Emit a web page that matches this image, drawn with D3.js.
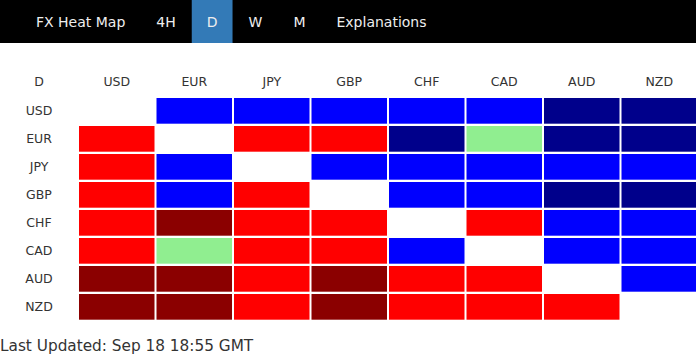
<!DOCTYPE html>
<head>
<style>
body { margin: 0; background: #fff; }
* { font-family: "DejaVu Sans", Verdana, sans-serif; }
</style>
</head>
<body>
<svg id="chart" width="696" height="358"></svg>
<script src="https://d3js.org/d3.v7.min.js"></script>
<script>

// nav
var brand = "FX Heat Map";
var timeframes = ["4H", "D", "W", "M"];
var activeFrame = "D";
var extraLink = "Explanations";

// heat map: 2 strong up, 1 up, 0 flat, -1 down, -2 strong down, null = same pair
var currencies = ["USD", "EUR", "JPY", "GBP", "CHF", "CAD", "AUD", "NZD"];
var rowUSD = [null, 1, 1, 1, 1, 1, 2, 2];
var rowEUR = [-1, null, -1, -1, 2, 0, 2, 2];
var rowJPY = [-1, 1, null, 1, 1, 1, 1, 1];
var rowGBP = [-1, 1, -1, null, 1, 1, 2, 2];
var rowCHF = [-1, -2, -1, -1, null, -1, 1, 1];
var rowCAD = [-1, 0, -1, -1, 1, null, 1, 1];
var rowAUD = [-2, -2, -1, -2, -1, -1, null, 1];
var rowNZD = [-2, -2, -1, -2, -1, -1, -1, null];
var lastUpdated = "Last Updated: Sep 18 18:55 GMT";

var rows = [rowUSD, rowEUR, rowJPY, rowGBP, rowCHF, rowCAD, rowAUD, rowNZD];
var cells = [];
rows.forEach(function(r, i) {
  r.forEach(function(v, j) {
    cells.push({row: currencies[i], col: currencies[j], value: v});
  });
});

var color = d3.scaleOrdinal()
    .domain([-2, -1, 0, 1, 2])
    .range(["#8b0000", "#ff0000", "#90ee90", "#0000ff", "#00008b"]);

var svg = d3.select("#chart");

// ---- nav bar
svg.append("rect").attr("width", 696).attr("height", 43).attr("fill", "#000");

var navItems = [{label: brand}].concat(timeframes.map(function(t) { return {label: t}; }), [{label: extraLink}]);
var nav = svg.append("g");
var cursor = 21;
navItems.forEach(function(d) {
  var g = nav.append("g");
  var bg = g.append("rect").attr("y", 0).attr("height", 43).attr("fill", d.label == activeFrame ? "#337ab7" : "none");
  var t = g.append("text")
      .attr("x", cursor + 15)
      .attr("y", 27)
      .attr("fill", "#eee")
      .style("font-size", "14px")
      .text(d.label);
  var w = t.node().getComputedTextLength();
  bg.attr("x", cursor).attr("width", w + 30);
  cursor += w + 31;
});

// ---- heat map
var x = d3.scaleBand().domain(currencies).range([78, 698]);
var y = d3.scaleBand().domain(currencies).range([97, 321]);

svg.append("text")
    .attr("x", 39).attr("y", 82)
    .attr("text-anchor", "middle").attr("dy", "0.35em")
    .attr("fill", "#333").style("font-size", "12.5px")
    .text(activeFrame);

svg.append("g").selectAll("text")
  .data(currencies)
  .enter().append("text")
    .attr("x", function(d) { return x(d) + x.bandwidth() / 2; })
    .attr("y", 82)
    .attr("text-anchor", "middle").attr("dy", "0.35em")
    .attr("fill", "#333").style("font-size", "12.5px")
    .text(function(d) { return d; });

svg.append("g").selectAll("text")
  .data(currencies)
  .enter().append("text")
    .attr("x", 39)
    .attr("y", function(d) { return y(d) + y.bandwidth() / 2; })
    .attr("text-anchor", "middle").attr("dy", "0.35em")
    .attr("fill", "#333").style("font-size", "12.5px")
    .text(function(d) { return d; });

svg.append("g").selectAll("rect")
  .data(cells.filter(function(d) { return d.value !== null; }))
  .enter().append("rect")
    .attr("x", function(d) { return x(d.col) + 1; })
    .attr("y", function(d) { return y(d.row) + 1; })
    .attr("width", x.bandwidth() - 2)
    .attr("height", y.bandwidth() - 2.3)
    .attr("fill", function(d) { return color(d.value); });

svg.append("text")
    .attr("x", 0).attr("y", 351)
    .attr("fill", "#333").style("font-size", "15.3px")
    .text(lastUpdated);

</script>
</body>
